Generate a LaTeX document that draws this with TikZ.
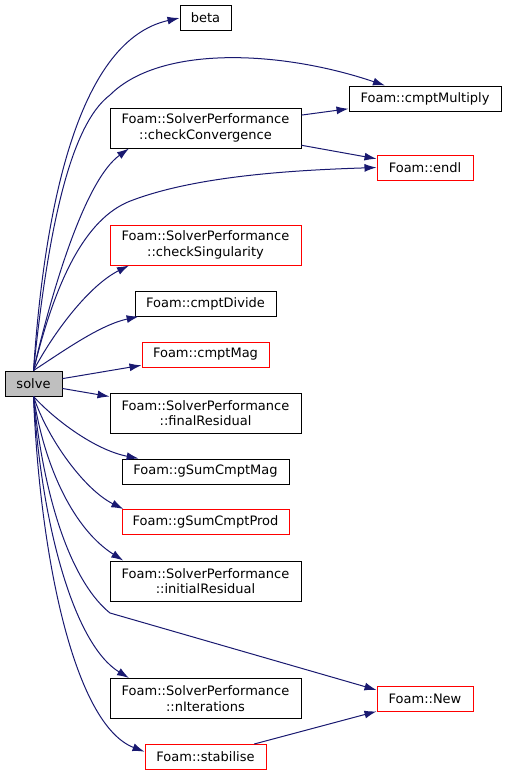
\documentclass[tikz,border=0pt]{standalone}
\usepackage{fontspec}
\setmainfont{DejaVu Sans}
\usetikzlibrary{shapes, arrows.meta, positioning}
\newlength{\hs}
\setlength{\hs}{25pt}
\newlength{\hd}
\setlength{\hd}{40pt}
\definecolor{edgecolor}{rgb}{0.1, 0.1, 0.44}
\definecolor{linkcolor}{rgb}{1.0, 0.0, 0.0}
\definecolor{rootcolor}{rgb}{0.75, 0.75, 0.75}
\tikzset{fn/.style={draw=black, rectangle, line width=1pt, minimum height=\hs, inner sep=0pt, align=center, font=\fontsize{13}{15.5}\selectfont}}
\tikzset{fnred/.style={fn, draw=linkcolor}}
\tikzset{fnroot/.style={fn, fill=rootcolor}}
\tikzset{call/.style={draw=edgecolor, line width=1pt, -{Latex[length=12pt,width=8pt]}}}

\begin{document}
\begin{tikzpicture}[x=1pt, y=-1pt]
	\useasboundingbox (0,0) rectangle (507,776);

	%%% NODES %%%

	% CALLER
	\node[fnroot, minimum width=57pt] at (33.5,383.5) (solve) {solve};

	% FIRST COLUMN
	\node[fn, minimum width=51pt] at (205.5,18) (beta) {beta};
	\node[fn, minimum width=191pt, minimum height=\hd] at (205.5,128) (checkconv) {Foam::SolverPerformance\\::checkConvergence};
	\node[fnred, minimum width=191pt, minimum height=\hd] at (205.5,245) (checksing) {Foam::SolverPerformance\\::checkSingularity};
	\node[fn, minimum width=141pt] at (205.5,303.5) (cmptdivide) {Foam::cmptDivide};
	\node[fnred, minimum width=127pt] at (205.5,354.5) (cmptmag) {Foam::cmptMag};
	\node[fn, minimum width=191pt, minimum height=\hd] at (205.5,413) (finalres) {Foam::SolverPerformance\\::finalResidual};
	\node[fn, minimum width=167pt] at (205.5,471.5) (gsummag) {Foam::gSumCmptMag};
	\node[fnred, minimum width=167pt] at (205.5,522) (gsumprod) {Foam::gSumCmptProd};
	\node[fn, minimum width=191pt, minimum height=\hd] at (205.5,581) (initres) {Foam::SolverPerformance\\::initialResidual};
	\node[fn, minimum width=191pt, minimum height=\hd] at (205.5,698.5) (niter) {Foam::SolverPerformance\\::nIterations};
	\node[fnred, minimum width=121pt] at (205.5,757) (stabilise) {Foam::stabilise};

	% SECOND COLUMN
	\node[fn, minimum width=152pt] at (425,98.5) (cmptmult) {Foam::cmptMultiply};
	\node[fnred, minimum width=96pt] at (425,167.5) (endl) {Foam::endl};
	\node[fnred, minimum width=96pt] at (425,698.5) (new) {Foam::New};

	%%% EXTRA ARROW NODES %%%
	\coordinate (e0) at (110,95);
	\coordinate (e1) at (133,200);
	\coordinate (e2) at (110,613);

	%%% ARROWS %%%

	% UPWARDS
	\draw[call] (solve.north) .. controls (45,200) and (80,40) .. (beta.west);
	\draw[call] (solve.north) .. controls (48,230) and (70,125) .. (e0) .. controls (160,45) and (280,50) .. (cmptmult.162);
	\draw[call] (solve.north) .. controls (52,290) and (85,180) .. (checkconv.195);
	\draw[call] (solve.north) .. controls (58,270) and (90,215) .. (e1) .. controls (200,175) and (300,170) .. (endl.west);
	\draw[call] (solve.north) .. controls (55,330) and (90,285) .. (checksing.195);
	\draw[call] (solve.north) .. controls (65,350) and (100,325) .. (cmptdivide.191);
	\draw[call] (solve) -- (cmptmag);

	% DOWNWARDS
	\draw[call] (solve) -- (finalres);
	\draw[call] (solve.south) .. controls (55,420) and (95,450) .. (gsummag.169);
	\draw[call] (solve.south) .. controls (48,440) and (85,490) .. (gsumprod.171);
	\draw[call] (solve.south) .. controls (45,470) and (75,530) .. (initres.166);
	\draw[call] (solve.south) .. controls (45,510) and (75,585) .. (e2) -- (new.170);
	\draw[call] (solve.south) .. controls (42,530) and (75,645) .. (niter.165);
	\draw[call] (solve.south) .. controls (40,560) and (75,725) .. (stabilise.175);

	% SECOND LEVEL
	\draw[call] (checkconv) -- (cmptmult);
	\draw[call] (checkconv) -- (endl);
	\draw[call] (stabilise) -- (new);

\end{tikzpicture}
\end{document}
